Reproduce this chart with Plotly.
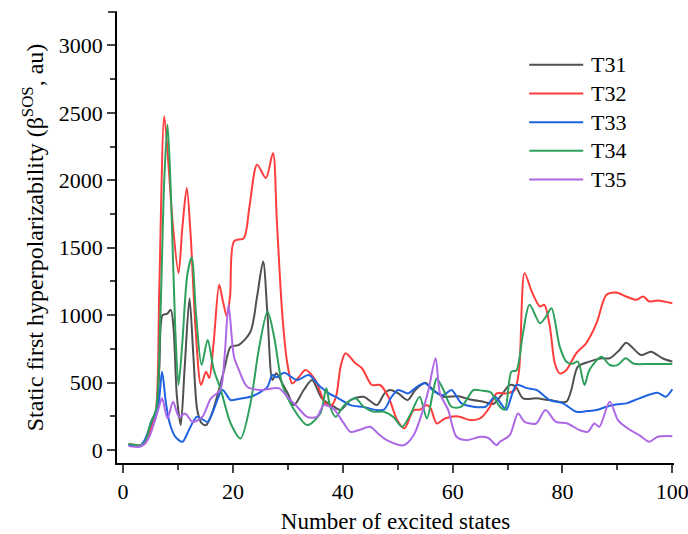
import plotly.graph_objects as go

# ---- data ----
series_names = ["T31", "T32", "T33", "T34", "T35"]
series_colors = ["#505050", "#ff3d3d", "#1f63e0", "#2ea05e", "#ad68e6"]

t31_x = [1, 2, 3, 4, 5, 6, 6.6, 7.2, 8, 8.7, 9.2, 9.8, 10.5, 11.2, 12.1, 12.8, 13.5, 14.3, 15.1, 16, 17,
         18.4, 19.6, 21.1, 23.2, 24.4, 25.5, 26.3, 27.2, 27.9, 29, 30, 31.1, 32.9, 34.4, 36.2, 38.4, 39.6,
         41.4, 43.8, 46.2, 47.6, 48.6, 50.1, 51.8, 53.2, 55, 56.5, 58.3, 61, 63.2, 65.6, 67.4, 68.9, 70.4,
         71.5, 72.8, 75.2, 77.7, 80.7, 81.6, 82.8, 84.9, 87.1, 88.6, 90.4, 91.6, 94.3, 96.1, 98.2, 100]
t31_y = [40, 35, 30, 60, 150, 250, 600, 1000, 1010, 1040, 900, 400, 186, 600, 1126, 700, 300, 200, 186, 250, 380,
         594, 767, 780, 878, 1138, 1398, 1000, 520, 570, 495, 420, 334, 446, 520, 384, 322, 297,
         371, 396, 334, 421, 446, 421, 371, 446, 500, 446, 396, 400, 376, 359, 342, 408, 483,
         470, 384, 384, 371, 359, 446, 619, 656, 681, 681, 743, 797, 705, 730, 681, 656]

t32_x = [1, 2, 3, 4, 5, 6, 6.6, 7.5, 8.3, 9, 10.1, 10.8, 11.6, 12.3, 13.2, 14.2, 15.1, 15.7, 16.5, 17.5, 18.2,
         18.9, 19.5, 20.2, 22, 23, 24.4, 26, 27.3, 28, 29, 29.9, 30.8, 32, 33.2, 35, 36.8, 37.9, 38.8, 39.6,
         40.5, 42.3, 43.5, 45.3, 46.8, 48.3, 49.9, 51.2, 52.9, 54, 55.3, 56, 57.1, 58.6, 61, 63.2, 65, 66.8,
         68, 69.8, 71.3, 72.1, 73.1, 74.4, 75.9, 76.7, 77.7, 78.6, 79.5, 80.7, 82.5, 84.3, 86.2, 88, 89.8,
         91.6, 93.4, 94.7, 95.8, 97.3, 100]
t32_y = [45, 40, 35, 50, 150, 300, 1200, 2475, 2100, 1700, 1312, 1650, 1943, 1600, 900, 483, 582, 535, 800, 1225, 1100,
         990, 1150, 1547, 1572, 1800, 2116, 2017, 2203, 1700, 1000, 644, 495, 540, 594, 520, 347, 330, 400, 619,
         718, 644, 607, 483, 483, 396, 223, 161, 297, 300, 334, 310, 198, 235, 250, 223, 235, 322,
         421, 421, 446, 594, 1312, 1176, 1064, 1077, 916, 644, 569, 594, 718, 792, 941, 1151, 1168,
         1139, 1114, 1139, 1102, 1110, 1089]

t33_x = [1, 2, 3, 4, 5.4, 6.3, 7.1, 7.8, 8.5, 9.5, 10.8, 12, 13.4, 14.4, 15.4, 16.5, 18.1, 19.6, 21, 23.2, 25,
         26.3, 27.2, 28, 29.3, 31.7, 33.8, 35.9, 37.7, 39, 41.4, 43.8, 46.2, 47.5, 48.9, 50.1, 51.9, 53.5,
         55, 56.5, 58.3, 59.8, 61.6, 63.8, 66, 67.7, 69.2, 69.8, 71.6, 73.5, 75.3, 77.7, 80.1, 82.5, 84.5,
         86.2, 88, 90, 91.6, 94, 97.3, 98.8, 100]
t33_y = [40, 35, 30, 80, 235, 300, 582, 350, 200, 100, 62, 150, 247, 230, 210, 300, 446, 371, 380, 396, 430,
         470, 557, 540, 574, 520, 557, 470, 416, 390, 334, 320, 297, 300, 396, 446, 421, 470,
         495, 440, 408, 446, 347, 322, 322, 396, 322, 300, 483, 460, 446, 371, 347, 285, 290,
         297, 322, 340, 347, 384, 426, 396, 451]

t34_x = [1, 2, 3, 4, 5, 6, 6.8, 7.5, 8.1, 8.8, 9.5, 10.1, 10.8, 11.7, 12.5, 13.3, 14.3, 15.4, 16.5, 17.8, 19.6,
         21.4, 23.2, 24.7, 26.3, 27.5, 29, 30.8, 33.5, 35.9, 37, 37.7, 38.7, 40.2, 42.3, 43.8, 45.6, 47.5,
         49.2, 50.8, 52.4, 54, 55.3, 56.5, 57.1, 58.3, 59.8, 61.6, 63.8, 65.5, 66.9, 68.6, 69.5, 70.7, 71.6,
         72.8, 74, 75.9, 77, 78, 79.5, 80.7, 81.8, 82.8, 84, 84.9, 87.1, 88.6, 90, 91.5, 93, 95.8, 100]
t34_y = [45, 40, 35, 60, 200, 300, 1000, 2000, 2413, 1800, 900, 483, 800, 1300, 1428, 1000, 631, 817, 600, 446, 198,
         87, 347, 743, 1027, 841, 483, 322, 186, 272, 458, 322, 247, 330, 384, 322, 285, 285,
         247, 173, 272, 396, 235, 446, 532, 450, 322, 322, 446, 440, 430, 322, 300, 582, 590,
         866, 1077, 941, 990, 1052, 767, 656, 640, 656, 483, 594, 693, 631, 630, 681, 640, 639, 639]

t35_x = [1, 2, 3, 4, 5, 5.7, 6.4, 7.1, 8.1, 9.1, 10.2, 11.3, 12.6, 13.5, 14.5, 16, 17.7, 18.5, 19.2, 20.2, 21.1,
         22.6, 25, 28.4, 29.9, 31.7, 33.5, 35.3, 36.5, 37.7, 38.5, 40.2, 41.4, 43, 45, 46.5, 48, 51.1, 52.9,
         54.4, 55.6, 56.9, 57.7, 59.2, 60.7, 62.6, 65, 66.5, 68, 68.6, 70.4, 71.9, 73.1, 75.2, 76.9, 78.8,
         80.9, 83.1, 84.6, 85.8, 86.7, 88.6, 90.1, 91.9, 94, 95.8, 97.3, 100]
t35_y = [30, 25, 25, 50, 120, 210, 300, 384, 235, 359, 247, 272, 210, 220, 250, 384, 446, 700, 1077, 693, 594,
         470, 446, 458, 396, 322, 247, 247, 334, 322, 300, 198, 136, 150, 173, 120, 74, 37, 111,
         272, 446, 681, 421, 297, 99, 74, 99, 90, 37, 62, 111, 272, 210, 198, 297, 210,
         198, 149, 136, 198, 173, 359, 223, 161, 111, 62, 99, 104]

x_tick_vals = [0, 20, 40, 60, 80, 100]
y_tick_vals = [0, 500, 1000, 1500, 2000, 2500, 3000]

xs = [t31_x, t32_x, t33_x, t34_x, t35_x]
ys = [t31_y, t32_y, t33_y, t34_y, t35_y]

FONT = "Liberation Serif, Times New Roman, serif"

fig = go.Figure()
for name, color, x, y in zip(series_names, series_colors, xs, ys):
    fig.add_trace(go.Scatter(x=x, y=y, mode="lines", name=name,
                             line=dict(color=color, width=2, shape="spline", smoothing=0.8),
                             showlegend=False, cliponaxis=False))

# manual legend (long line samples like the reference)
leg_top = 0.883
leg_step = 0.0636
for i, (name, color) in enumerate(zip(series_names, series_colors)):
    yy = leg_top - i * leg_step
    fig.add_shape(type="line", xref="paper", yref="paper", x0=0.740, x1=0.837, y0=yy, y1=yy,
                  line=dict(color=color, width=2))
    fig.add_annotation(xref="paper", yref="paper", x=0.848, y=yy, text=name, showarrow=False,
                       xanchor="left", yanchor="middle", font=dict(family=FONT, size=22, color="black"))

# small cap at top of y axis
fig.add_shape(type="line", xref="paper", yref="paper", x0=-0.016, x1=0, y0=1, y1=1,
              line=dict(color="black", width=1.5))

fig.update_layout(
    width=688, height=534,
    margin=dict(l=117, r=14, t=12, b=71),
    plot_bgcolor="white", paper_bgcolor="white",
    font=dict(family=FONT, size=22, color="black"),
    showlegend=False,
)
fig.update_xaxes(range=[-1.1, 100.3], tickvals=x_tick_vals, ticks="outside", ticklen=8, tickwidth=1.5,
                 showline=True, linecolor="black", linewidth=1.5, showgrid=False, zeroline=False,
                 automargin=False, ticklabeloverflow="allow",
                 minor=dict(ticks="outside", ticklen=5, tickwidth=1.5, dtick=10, tick0=0, showgrid=False),
                 tickfont=dict(family=FONT, size=22),
                 title=dict(text="Number of excited states", font=dict(family=FONT, size=23), standoff=14))
fig.update_yaxes(range=[-95, 3247], tickvals=y_tick_vals, ticks="outside", ticklen=8, tickwidth=1.5,
                 showline=True, linecolor="black", linewidth=1.5, showgrid=False, zeroline=False,
                 automargin=False, ticklabeloverflow="allow",
                 minor=dict(ticks="outside", ticklen=5, tickwidth=1.5, dtick=250, tick0=0, showgrid=False),
                 tickfont=dict(family=FONT, size=22),
                 title=dict(text="Static first hyperpolarizability (β<sup>SOS</sup>, au)",
                            font=dict(family=FONT, size=24), standoff=8))

fig.write_html("out.html")
